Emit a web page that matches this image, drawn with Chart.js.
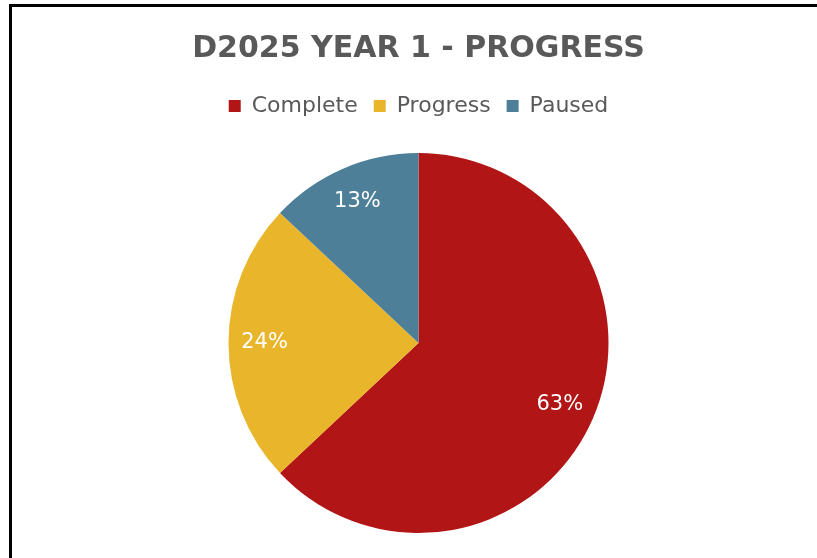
<!DOCTYPE html>
<html>
<head>
<meta charset="utf-8">
<script src="https://cdn.jsdelivr.net/npm/chart.js@4.4.1/dist/chart.umd.min.js"></script>
<style>
  html, body { margin: 0; padding: 0; background: #fff; }
  .frame {
    position: absolute; left: 9px; top: 4px; right: 0; bottom: 0;
    border-left: 3px solid #000; border-top: 3px solid #000;
  }
  .wrap { position: absolute; left: 0; top: 0; width: 817px; height: 558px; }
</style>
</head>
<body>
<div class="frame"></div>
<div class="wrap"><canvas id="progressChart" width="817" height="558"></canvas></div>
<script>
const chartTitle = 'D2025 YEAR 1 - PROGRESS';
const categories = ['Complete', 'Progress', 'Paused'];
const shares = [63, 24, 13];
const sliceColors = ['#B11515', '#E8B52B', '#4E7F99'];

const fontFamily = "'Century Gothic', 'DejaVu Sans', sans-serif";

// push the pie down a bit below the legend
const legendGap = {
    id: 'legendGap',
    beforeInit(chart) {
        const fit = chart.legend.fit;
        chart.legend.fit = function () {
            fit.bind(chart.legend)();
            this.height += 26;
        };
    }
};

// white percentage labels inside each slice
const sliceLabels = {
    id: 'sliceLabels',
    afterDatasetsDraw(chart) {
        const ctx = chart.ctx;
        const meta = chart.getDatasetMeta(0);
        const data = chart.data.datasets[0].data;
        ctx.save();
        ctx.fillStyle = '#ffffff';
        ctx.font = '21px ' + fontFamily;
        ctx.textAlign = 'center';
        ctx.textBaseline = 'middle';
        meta.data.forEach((arc, i) => {
            const p = arc.getProps(['x', 'y', 'startAngle', 'endAngle', 'outerRadius'], true);
            const mid = (p.startAngle + p.endAngle) / 2;
            const r = p.outerRadius * 0.81;
            ctx.fillText(data[i] + '%', p.x + Math.cos(mid) * r, p.y + Math.sin(mid) * r);
        });
        ctx.restore();
    }
};

const ctx = document.getElementById('progressChart').getContext('2d');
const progressChart = new Chart(ctx, {
    type: 'pie',
    data: {
        labels: categories,
        datasets: [{
            data: shares,
            backgroundColor: sliceColors,
            borderWidth: 0
        }]
    },
    options: {
        responsive: false,
        animation: false,
        layout: {
            padding: { left: 20, right: 0, top: 0, bottom: 25 }
        },
        plugins: {
            title: {
                display: true,
                text: chartTitle,
                color: '#595959',
                font: { family: fontFamily, size: 30, weight: 'bold' },
                padding: { top: 31, bottom: 12 }
            },
            legend: {
                position: 'top',
                labels: {
                    color: '#595959',
                    font: { family: fontFamily, size: 22 },
                    boxWidth: 12,
                    boxHeight: 12,
                    padding: 16
                }
            },
            tooltip: { enabled: false }
        }
    },
    plugins: [legendGap, sliceLabels]
});
</script>
</body>
</html>
